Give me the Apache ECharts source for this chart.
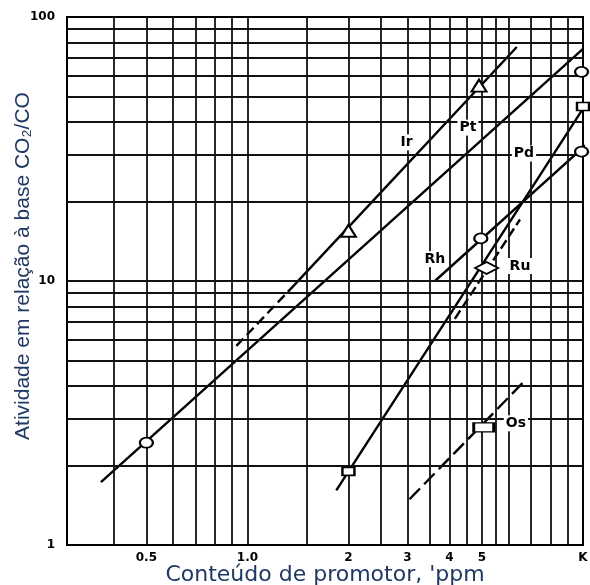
<!DOCTYPE html>
<html>
<head>
<meta charset="utf-8">
<script src="https://cdn.jsdelivr.net/npm/echarts@6/dist/echarts.min.js"></script>
<style>
html,body{margin:0;padding:0;background:#fff;}
#c{width:590px;height:585px;}
</style>
</head>
<body>
<div id="c"></div>
<script>
// ---- axis ticks / labels ----
const xTickValues = [0.5, 1.0, 2, 3, 4, 5, 10];
const xTickLabels = ['0.5', '1.0', '2', '3', '4', '5', 'K'];
const yTickValues = [1, 10, 100];
const yTickLabels = ['1', '10', '100'];
// log-paper grid lines
const xGridValues = [0.4, 0.5, 0.6, 0.7, 0.8, 0.9, 1, 1.5, 2, 2.5, 3, 3.5, 4, 4.5, 5, 5.5, 6, 7, 8, 9];
const yGridValues = [2, 3, 4, 5, 6, 7, 8, 9, 10, 20, 30, 40, 50, 60, 70, 80, 90];

// ---- fitted lines (ppm, activity) ----
const irDashed = [[0.927, 5.68], [1.32, 9.1]];
const irSolid  = [[1.32, 9.1], [6.35, 77]];
const ptLine   = [[0.366, 1.73], [10, 75.7]];
const pdLine   = [[1.84, 1.61], [10, 45]];
const rhLine   = [[3.62, 10.0], [10.5, 33.8]];
const ruLine   = [[4.15, 7.19], [6.49, 17.1]];
const osLine   = [[3.04, 1.49], [6.71, 4.19]];

// ---- measured points ----
const irPoints = [[2, 15.5], [4.9, 55]];
const ptPoints = [[0.5, 2.44], [9.9, 62]];
const pdPoints = [[2, 1.9], [10, 45.8]];
const rhPoints = [[4.96, 14.5], [9.9, 30.9]];
const ruPoints = [[5.16, 11.2]];
const osPoints = [[5.06, 2.79]];

// ---- curve names ----
const curveNames = ['Ir', 'Pt', 'Pd', 'Rh', 'Ru', 'Os'];
const curveNameAt = [[2.98, 33.5], [4.54, 38.1], [6.67, 30.4], [3.62, 12.1], [6.49, 11.4], [6.31, 2.89]];

const xTitle = "Conteúdo de promotor, 'ppm";
const yTitle = 'Atividade em relação à base CO₂/CO';

function lookup(vals, labels, v) {
  for (let i = 0; i < vals.length; i++) {
    if (Math.abs(Math.log10(vals[i]) - Math.log10(v)) < 1e-6) return labels[i];
  }
  return '';
}

const chart = echarts.init(document.getElementById('c'), null, {renderer: 'canvas'});

function lineSeries(name, data, dashed, dashArr) {
  return {
    type: 'line', symbol: 'none', clip: false, silent: true, z: 3,
    name: name, data: data,
    lineStyle: {color: '#000', width: 2.4, type: dashed ? dashArr : 'solid'}
  };
}
const ellipse = 'path://M0,5A5,5,0,1,1,10,5A5,5,0,1,1,0,5Z';
function markerSeries(name, data, symbol, size) {
  return {
    type: 'scatter', name: name, data: data, symbol: symbol, symbolSize: size,
    clip: false, silent: true, z: 5,
    itemStyle: {color: '#fff', borderColor: '#000', borderWidth: 2, opacity: 1}
  };
}

const option = {
  animation: false,
  backgroundColor: '#fff',
  grid: {left: 67, right: 7, top: 17, bottom: 40, outerBoundsMode: 'none', containLabel: false,
    show: true, borderColor: '#000', borderWidth: 2, backgroundColor: 'transparent'},
  xAxis: {
    type: 'log', logBase: 10, min: 0.29, max: 10,
    axisLine: {show: false}, axisTick: {show: false}, splitLine: {show: false},
    axisLabel: {
      customValues: xTickValues,
      formatter: function (v) { return lookup(xTickValues, xTickLabels, v); },
      margin: 7, color: '#000', fontFamily: 'DejaVu Sans', fontWeight: 'bold', fontSize: 12
    },
    name: xTitle, nameLocation: 'middle', nameGap: 19, nameMoveOverlap: false,
    nameTextStyle: {color: '#1f3864', fontFamily: 'DejaVu Sans', fontSize: 22}
  },
  yAxis: {
    type: 'log', logBase: 10, min: 1, max: 100,
    axisLine: {show: false}, axisTick: {show: false}, splitLine: {show: false},
    axisLabel: {
      customValues: yTickValues,
      formatter: function (v) { return lookup(yTickValues, yTickLabels, v); },
      margin: 12, color: '#000', fontFamily: 'DejaVu Sans', fontWeight: 'bold', fontSize: 12
    }
  },
  graphic: [{
    type: 'text', x: 23, y: 266, rotation: Math.PI / 2, silent: true,
    style: {text: yTitle, align: 'center', verticalAlign: 'middle',
      fill: '#1f3864', font: '21px "Liberation Sans", Arial, sans-serif'}
  }],
  series: [
    {
      type: 'line', data: [], silent: true, z: 1,
      markLine: {
        silent: true, symbol: 'none', animation: false,
        label: {show: false},
        lineStyle: {color: '#111', width: 1.8, type: 'solid'},
        data: xGridValues.map(v => ({xAxis: v})).concat(yGridValues.map(v => ({yAxis: v})))
      }
    },
    lineSeries('Ir dashed', irDashed, true, [10, 5]),
    lineSeries('Ir', irSolid, false),
    lineSeries('Pt', ptLine, false),
    lineSeries('Pd', pdLine, false),
    lineSeries('Rh', rhLine, false),
    lineSeries('Ru', ruLine, true, [10, 4]),
    lineSeries('Os', osLine, true, [15, 6]),
    markerSeries('Ir pts', irPoints, 'triangle', [15, 12]),
    markerSeries('Pt pts', ptPoints, ellipse, [13, 10]),
    markerSeries('Pd pts', pdPoints, 'rect', [12, 8]),
    markerSeries('Rh pts', rhPoints, ellipse, [13, 10]),
    markerSeries('Ru pts', ruPoints, 'diamond', [23, 12]),
    markerSeries('Os pts', osPoints, 'rect', [20, 9]),
    {
      type: 'scatter', name: 'names', silent: true, z: 6, clip: false,
      symbol: 'circle', symbolSize: 1, itemStyle: {color: 'rgba(255,255,255,0)', opacity: 1},
      data: curveNameAt.map((p, i) => ({value: p, name: curveNames[i]})),
      label: {
        show: true, position: 'inside', formatter: '{b}', opacity: 1,
        color: '#000', textBorderWidth: 0, fontFamily: 'DejaVu Sans', fontWeight: 'bold', fontSize: 14,
        backgroundColor: '#fff', padding: [1, 2]
      }
    }
  ]
};
chart.setOption(option);
</script>
</body>
</html>
